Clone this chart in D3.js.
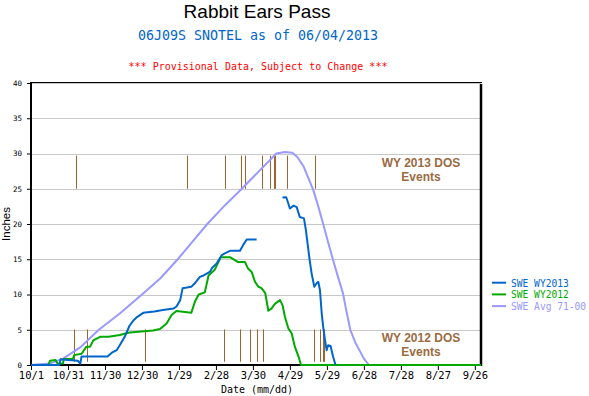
<!DOCTYPE html>
<html><head><meta charset="utf-8">
<script src="https://cdn.jsdelivr.net/npm/d3@7"></script>
<style>body{margin:0;background:#fff}svg{display:block}</style>
</head><body>
<script>
// ---- data (x = days since Oct 1, y = inches) ----
const xTickDays = [0,30,60,90,120,150,180,210,240,270,300,330,360];
const xTickLabels = ["10/1","10/31","11/30","12/30","1/29","2/28","3/30","4/29","5/29","6/28","7/28","8/27","9/26"];
const yTicks = [0,5,10,15,20,25,30,35,40];

const wy2013Days = [0,23,24,30,38,40,41,62,64,66,69.5,72,76,80,83,86,91,100,107,115.5,118,121,123,130,133,137,140,145,147,150.6,154.7,158,161.4,169.5,172,175,183,
  184,
  204,207,208,210,213,215.5,218,221.4,223,225,226,227.6,229.8,231.7,233,234.4,235.8,237,238.5,239.8,241,243,245,247];
const wy2013Vals = [0,0,0.8,0.7,0.6,0.2,1.2,1.2,1.5,1.8,2.1,2.8,4.0,5.6,6.3,6.8,7.4,7.6,7.8,8.0,8.3,9.2,10.9,11.1,11.6,12.5,12.7,13.2,13.8,14.4,15.6,15.9,16.2,16.2,17.0,17.8,17.8,
  null,
  23.75,23.8,23.3,22.2,22.6,22.4,21.0,20.8,19.1,16.3,14.9,13.0,11.1,11.6,11.8,10.6,7.3,5.4,3.5,2.1,2.8,2.7,1.2,0];

const wy2012Days = [0,14,15.4,20,21.5,26,26.5,34,35,41,45,48,50.5,56,63,72,80,99,104.6,110,114,118,130,133,136,141,144,149,152,154,161.4,168,173.6,176,179,181.7,184.4,187,190,192.5,195,198,202,204,206,208.7,211.4,214,217,219,365];
const wy2012Vals = [0,0,0.6,0.7,0.2,0.2,0.85,0.85,1.4,1.6,2.6,2.6,3.5,4.0,4.0,4.25,4.6,4.9,5.1,5.9,7.1,7.65,7.4,9.0,10.0,10.3,12.7,13.5,14.6,15.3,15.3,14.6,14.6,13.7,13.2,11.8,11.1,10.9,10.2,7.7,8.0,8.7,9.2,8.5,6.8,5.2,4.5,2.6,1.2,0,0];

const avgDays = [0,15,26,40,55,72,90,105,119,131,143,157,171,185,199,206,212,216,221,225,229,233,237,241,245,249,253,256,259,263,267,270,274];
const avgVals = [0,0.2,0.9,2.5,5,7.3,10,12.3,15,17.5,20,22.6,25,27.5,30,30.2,30.1,29.5,28.2,26.5,24.8,22.5,20,17.4,14.9,12.5,10.2,7.5,5,3.2,1.9,0.9,0];

const dos2013Days = [36.7,126.8,157.6,170.6,173.8,187.6,194.1,196.7,197.5,198.3,207.9,230.6];
const dos2012Days = [35.1,45.7,92.7,156.8,169.8,177.9,183.5,188.4,229.8,234.1,236.8,237.8];
const dos2013Range = [25,29.7];
const dos2012Range = [0.45,5.05];

const seriesNames = ["SWE WY2013","SWE WY2012","SWE Avg 71-00"];
const seriesColors = ["#0066cc","#00aa00","#9999ff"];

// ---- drawing ----
const W = 589, H = 396;
const svg = d3.select("body").append("svg").attr("width",W).attr("height",H);
const x = d3.scaleLinear().domain([0,365]).range([31,481]);
const y = d3.scaleLinear().domain([0,40]).range([365,83]);
const mono = "'DejaVu Sans Mono', 'Liberation Mono', monospace";
const brown = "#a0652f";

// grid
svg.append("g").selectAll("line").data(yTicks.filter(d=>d>0)).join("line")
  .attr("x1",x(0)).attr("x2",x(365)).attr("y1",d=>Math.round(y(d))+0.5).attr("y2",d=>Math.round(y(d))+0.5)
  .attr("stroke","#c8c8c8").attr("stroke-width",1);

// frame
svg.append("line").attr("x1",30).attr("x2",482).attr("y1",82.5).attr("y2",82.5).attr("stroke","#000").attr("stroke-width",1);
svg.append("line").attr("x1",481).attr("x2",481).attr("y1",84).attr("y2",366).attr("stroke","#000").attr("stroke-width",2.5);

// axes
const yAxis = d3.axisLeft(y).tickValues(yTicks).tickSize(4).tickFormat(d3.format("d"));
const gy = svg.append("g").attr("transform","translate(31,0)").call(yAxis);
gy.select(".domain").attr("stroke","#000").attr("stroke-width",2).attr("d","M0,82V366");
gy.selectAll(".tick line").attr("stroke","#000");
gy.selectAll(".tick text").attr("font-family",mono).attr("font-size","7.5px").attr("x",-9).attr("fill","#000");

const xAxis = d3.axisBottom(x).tickValues(xTickDays).tickSize(5).tickFormat((d,i)=>xTickLabels[i]);
const gx = svg.append("g").attr("transform","translate(0,365)").call(xAxis);
gx.select(".domain").attr("stroke","#000").attr("stroke-width",2).attr("d","M30,0H482");
gx.selectAll(".tick line").attr("stroke","#000");
gx.selectAll(".tick text").attr("font-family",mono).attr("font-size","10.5px").attr("y",7).attr("fill","#000");

// DOS events
function dos(days, range){
  svg.append("g").selectAll("line").data(days).join("line")
    .attr("x1",d=>Math.round(x(d))+0.5).attr("x2",d=>Math.round(x(d))+0.5)
    .attr("y1",y(range[0])).attr("y2",y(range[1]))
    .attr("stroke",brown).attr("stroke-width",1);
}
dos(dos2013Days,dos2013Range);
dos(dos2012Days,dos2012Range);

// series lines
function series(days, vals, color){
  const pts = days.map((d,i)=>[d,vals[i]]);
  const line = d3.line().defined(p=>p[1]!==null).x(p=>x(p[0])).y(p=>y(p[1]));
  svg.append("path").datum(pts).attr("d",line).attr("fill","none")
    .attr("stroke",color).attr("stroke-width",2).attr("stroke-linejoin","round");
}
series(avgDays,avgVals,seriesColors[2]);
series(wy2012Days,wy2012Vals,seriesColors[1]);
series(wy2013Days,wy2013Vals,seriesColors[0]);

// DOS labels
const dosLbl = [["WY 2013 DOS",167],["Events",180.5],["WY 2012 DOS",342],["Events",355.5]];
svg.append("g").selectAll("text").data(dosLbl).join("text")
  .attr("x",421).attr("y",d=>d[1]).attr("text-anchor","middle")
  .attr("font-family","'Liberation Sans', Arial, sans-serif").attr("font-weight","bold").attr("font-size","12px")
  .attr("fill","#9b6b3f").text(d=>d[0]);

// titles
svg.append("text").attr("x",257).attr("y",17.5).attr("text-anchor","middle")
  .attr("font-family","'Liberation Sans', Arial, sans-serif").attr("font-size","19px").attr("fill","#000").text("Rabbit Ears Pass");
svg.append("text").attr("x",258).attr("y",39.5).attr("text-anchor","middle")
  .attr("font-family",mono).attr("font-size","13.3px").attr("fill","#0066cc").text("06J09S SNOTEL as of 06/04/2013");
svg.append("text").attr("x",258).attr("y",69.5).attr("text-anchor","middle")
  .attr("font-family",mono).attr("font-size","10px").attr("fill","#ff0000").text("*** Provisional Data, Subject to Change ***");

svg.append("text").attr("x",257).attr("y",393).attr("text-anchor","middle")
  .attr("font-family",mono).attr("font-size","10px").attr("fill","#000").text("Date (mm/dd)");
svg.append("text").attr("transform","translate(10,224) rotate(-90)").attr("text-anchor","middle")
  .attr("font-family","'Liberation Sans', Arial, sans-serif").attr("font-size","11.5px").attr("fill","#000").text("Inches");

// legend
const lg = svg.append("g").selectAll("g").data(seriesNames).join("g")
  .attr("transform",(d,i)=>`translate(0,${282.7+i*11.7})`);
lg.append("line").attr("x1",492).attr("x2",506).attr("stroke",(d,i)=>seriesColors[i]).attr("stroke-width",2);
lg.append("text").attr("x",511).attr("y",4).attr("font-family",mono).attr("font-size","9.6px")
  .attr("fill",(d,i)=>seriesColors[i]).text(d=>d);
</script>
</body></html>
